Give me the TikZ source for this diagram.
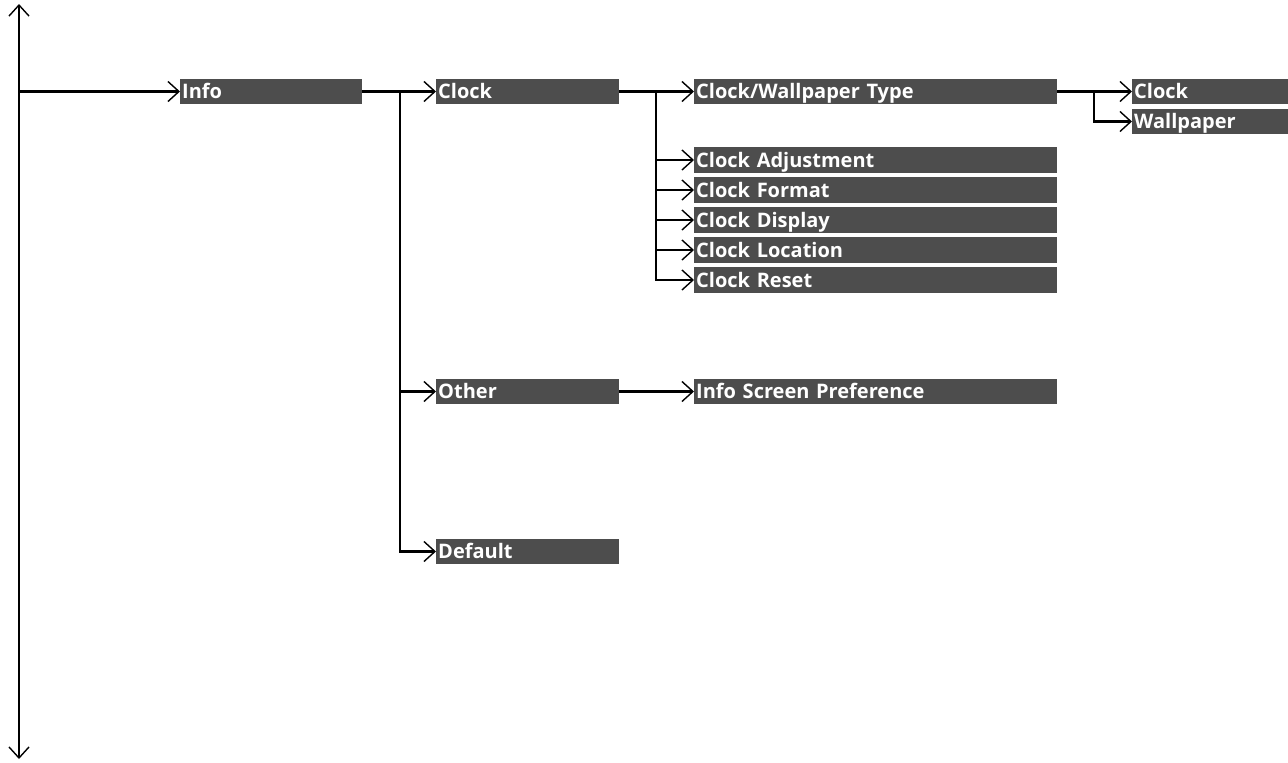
\documentclass[tikz,border=0pt]{standalone}
\usepackage{fontspec}
\setmainfont{Open Sans}
\usetikzlibrary{arrows.meta}
\definecolor{boxgray}{HTML}{4D4D4D}
\tikzset{
  x=1pt,y=-1pt,
  menubox/.style={fill=boxgray,text=white,font=\bfseries\fontsize{20}{20}\selectfont,
    anchor=west,inner xsep=2pt,inner ysep=0pt,minimum height=25.5pt,
    text height=15pt,text depth=1pt,align=left},
  lvone/.style={menubox,text width=178pt},
  lvtwo/.style={menubox,text width=179pt},
  lvthree/.style={menubox,text width=359pt},
  lvfour/.style={menubox,text width=152pt},
  conn/.style={line width=2.4pt},
  arr/.style={conn,-{Straight Barb[length=11pt,width=20pt,line width=1.4pt]}},
}
\begin{document}
\begin{tikzpicture}
\useasboundingbox (0,0) rectangle (1288,763);
% main vertical
\coordinate (top) at (19,4);
\coordinate (bot) at (19,759);
\coordinate (m1) at (19,91.5);
\draw[conn,{Straight Barb[length=11pt,width=20pt,line width=1.4pt]}-{Straight Barb[length=11pt,width=20pt,line width=1.4pt]}] (top) -- (bot);
% nodes
\node[lvone] (info) at (180,91.5) {Info};
\node[lvtwo] (clock) at (436,91.5) {Clock};
\node[lvtwo] (other) at (436,391.5) {Other};
\node[lvtwo] (default) at (436,551.5) {Default};
\node[lvthree] (cwt) at (694,91.5) {Clock/Wallpaper Type};
\node[lvthree] (cadj) at (694,160) {Clock Adjustment};
\node[lvthree] (cfmt) at (694,190) {Clock Format};
\node[lvthree] (cdsp) at (694,220) {Clock Display};
\node[lvthree] (cloc) at (694,250) {Clock Location};
\node[lvthree] (crst) at (694,280) {Clock Reset};
\node[lvthree] (isp) at (694,391.5) {Info Screen Preference};
\node[lvfour] (rclock) at (1132,91.5) {Clock};
\node[lvfour] (rwall) at (1132,121.5) {Wallpaper};
% connectors
\draw[arr] (m1) -- (info.west);
\coordinate (b1) at (400,91.5);
\draw[arr] (info.east) -- (clock.west);
\draw[arr] (b1) |- (other.west);
\draw[arr] (b1) |- (default.west);
\coordinate (b2) at (656,91.5);
\draw[arr] (clock.east) -- (cwt.west);
\draw[arr] (b2) |- (cadj.west);
\draw[arr] (b2) |- (cfmt.west);
\draw[arr] (b2) |- (cdsp.west);
\draw[arr] (b2) |- (cloc.west);
\draw[arr] (b2) |- (crst.west);
\draw[arr] (other.east) -- (isp.west);
\coordinate (b3) at (1094,91.5);
\draw[arr] (cwt.east) -- (rclock.west);
\draw[arr] (b3) |- (rwall.west);
\end{tikzpicture}
\end{document}
